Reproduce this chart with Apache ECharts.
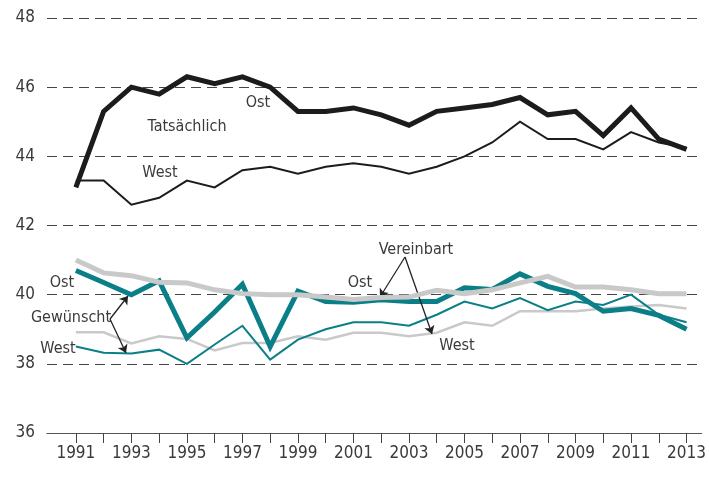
<!DOCTYPE html>
<html>
<head>
<meta charset="utf-8">
<script src="https://cdn.jsdelivr.net/npm/echarts@6/dist/echarts.min.js"></script>
<style>
  html, body { margin: 0; padding: 0; background: #fff; }
  #chart { width: 709px; height: 477px; }
</style>
</head>
<body>
<div id="chart"></div>
<script>
const years = [1991, 1992, 1993, 1994, 1995, 1996, 1997, 1998, 1999, 2000, 2001, 2002,
               2003, 2004, 2005, 2006, 2007, 2008, 2009, 2010, 2011, 2012, 2013];
const yearLabels = [1991, 1993, 1995, 1997, 1999, 2001, 2003, 2005, 2007, 2009, 2011, 2013];
const yTicks = [36, 38, 40, 42, 44, 46, 48];

// Tatsächlich
const ostActual = [43.1, 45.3, 46.0, 45.8, 46.3, 46.1, 46.3, 46.0, 45.3, 45.3, 45.4, 45.2,
                   44.9, 45.3, 45.4, 45.5, 45.7, 45.2, 45.3, 44.6, 45.4, 44.5, 44.2];
const westActual = [43.3, 43.3, 42.6, 42.8, 43.3, 43.1, 43.6, 43.7, 43.5, 43.7, 43.8, 43.7,
                    43.5, 43.7, 44.0, 44.4, 45.0, 44.5, 44.5, 44.2, 44.7, 44.4, 44.25];
// Gewünscht
const ostWanted = [40.7, 40.35, 40.0, 40.4, 38.75, 39.5, 40.3, 38.5, 40.1, 39.8, 39.78, 39.85,
                   39.8, 39.8, 40.2, 40.15, 40.6, 40.24, 40.03, 39.52, 39.6, 39.4, 39.0];
const westWanted = [38.5, 38.32, 38.3, 38.41, 38.0, 38.56, 39.1, 38.12, 38.7, 39.0, 39.2, 39.2,
                    39.1, 39.42, 39.8, 39.6, 39.9, 39.55, 39.8, 39.7, 40.0, 39.42, 39.2];
// Vereinbart
const ostAgreed = [41.0, 40.63, 40.55, 40.36, 40.34, 40.14, 40.03, 40.0, 40.0, 39.93, 39.86, 39.92,
                   39.93, 40.13, 40.03, 40.14, 40.34, 40.53, 40.22, 40.22, 40.14, 40.03, 40.03];
const westAgreed = [38.91, 38.91, 38.59, 38.8, 38.72, 38.39, 38.6, 38.6, 38.8, 38.7, 38.9, 38.9,
                    38.8, 38.9, 39.2, 39.1, 39.52, 39.52, 39.52, 39.6, 39.66, 39.7, 39.6];

const FONT = '"Liberation Sans Narrow", "DejaVu Sans Condensed", "Open Sans", sans-serif';
const TEXT = '#3a3a3a';
const BLACK = '#1c1c1c';
const TEAL = '#0b7f88';
const GRAY = '#c9c9c9';

const pairs = arr => years.map((y, i) => [y, arr[i]]);

const lineSeries = (name, arr, color, width, z) => ({
    name: name,
    type: 'line',
    data: pairs(arr),
    symbol: 'none',
    z: z,
    lineStyle: { color: color, width: width, join: 'miter' }
});

const annotations = [
    { text: 'Ost', x: 258, y: 103 },
    { text: 'Tatsächlich', x: 187, y: 127 },
    { text: 'West', x: 160, y: 173 },
    { text: 'Vereinbart', x: 416, y: 250 },
    { text: 'Ost', x: 360, y: 283 },
    { text: 'West', x: 457, y: 346 },
    { text: 'Ost', x: 62, y: 283 },
    { text: 'Gewünscht', x: 71, y: 318 },
    { text: 'West', x: 58, y: 349 }
];

const arrows = [
    [[110, 319], [128, 296]],
    [[110, 319], [126, 353]],
    [[405, 257], [380, 297]],
    [[405, 257], [432, 334]]
];

const chart = echarts.init(document.getElementById('chart'));
chart.setOption({
    animation: false,
    grid: { left: 47, right: 4, top: 18, bottom: 44 },
    xAxis: {
        type: 'value',
        min: 1989.96,
        max: 2013.54,
        splitLine: { show: false },
        axisLine: { onZero: false, lineStyle: { color: '#555', width: 1.2 } },
        axisTick: {
            customValues: years,
            length: 10,
            lineStyle: { color: '#444', width: 1 }
        },
        axisLabel: {
            customValues: yearLabels,
            formatter: v => String(v),
            color: TEXT,
            fontFamily: FONT,
            fontSize: 17,
            margin: 12
        }
    },
    yAxis: {
        type: 'value',
        min: yTicks[0],
        max: yTicks[yTicks.length - 1],
        interval: 2,
        axisLine: { show: false },
        axisTick: { show: false },
        axisLabel: { color: TEXT, fontFamily: FONT, fontSize: 17, margin: 12 },
        splitLine: { lineStyle: { color: '#444', width: 1, type: [10, 6] } }
    },
    graphic: annotations.map(a => ({
        type: 'text',
        x: a.x,
        y: a.y,
        style: {
            text: a.text,
            fill: TEXT,
            font: '16px ' + FONT,
            align: 'center',
            verticalAlign: 'middle'
        }
    })),
    series: [
        lineSeries('West vereinbart', westAgreed, GRAY, 2.5, 2),
        lineSeries('West gewünscht', westWanted, TEAL, 2, 3),
        lineSeries('Ost gewünscht', ostWanted, TEAL, 5, 4),
        lineSeries('Ost vereinbart', ostAgreed, GRAY, 5, 5),
        lineSeries('West tatsächlich', westActual, BLACK, 2, 6),
        Object.assign(lineSeries('Ost tatsächlich', ostActual, BLACK, 5, 7), {
            markLine: {
                silent: true,
                symbol: ['none', 'arrow'],
                symbolSize: 8,
                label: { show: false },
                lineStyle: { color: '#222', width: 1.3, type: 'solid' },
                data: arrows.map(a => [{ x: a[0][0], y: a[0][1] }, { x: a[1][0], y: a[1][1] }])
            }
        })
    ]
});

window.addEventListener('resize', function () {
    chart.resize();
});
</script>
</body>
</html>
